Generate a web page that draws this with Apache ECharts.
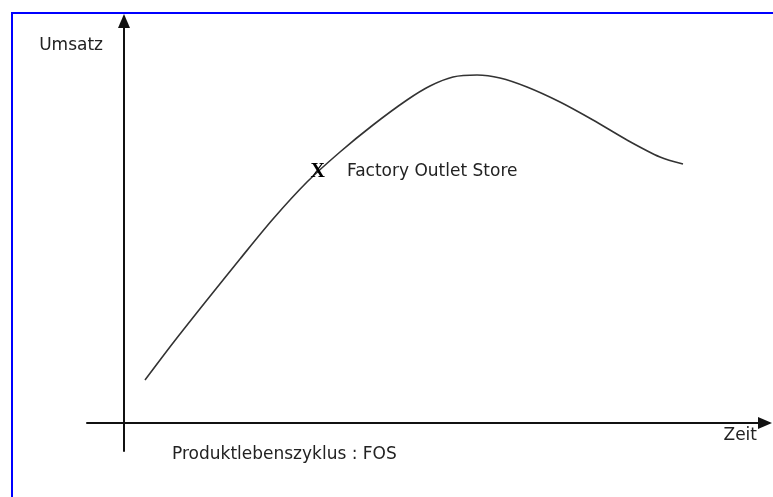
<!DOCTYPE html>
<html>
<head>
<meta charset="utf-8">
<script src="https://cdn.jsdelivr.net/npm/echarts@6/dist/echarts.min.js"></script>
<style>
html,body{margin:0;padding:0;background:#fff;}
#chart{width:773px;height:497px;}
</style>
</head>
<body>
<div id="chart"></div>
<script>
// Zeit (time, arbitrary units) and Umsatz (sales, arbitrary units) along the life cycle curve
const zeit   = [21, 49, 83, 116, 149, 183, 216, 249, 283, 306, 329, 353, 376, 403, 436, 469, 503, 536, 559];
const umsatz = [43, 80, 123, 164, 204, 241, 271, 298, 323, 337, 346, 348, 345, 336, 321, 303, 283, 266, 259];
// Factory Outlet Store position on the curve
const fosPoint = [194, 251];
const fosLabel = 'Factory Outlet Store';
const xAxisName = 'Zeit';
const yAxisName = 'Umsatz';
const caption = 'Produktlebenszyklus : FOS';
const axisRange = { xMin: -37, xMax: 641, yMin: -28, yMax: 402 };

const curve = zeit.map((x, i) => [x, umsatz[i]]);

const chart = echarts.init(document.getElementById('chart'), null, { renderer: 'canvas' });
const textFont = 'DejaVu Sans';
chart.setOption({
  animation: false,
  backgroundColor: '#ffffff',
  title: {
    text: caption,
    left: 172,
    top: 446,
    padding: 0,
    textStyle: { fontFamily: textFont, fontSize: 17, fontWeight: 'normal', color: '#222' }
  },
  graphic: [{
    type: 'rect',
    shape: { x: 12, y: 13, width: 900, height: 700 },
    style: { fill: 'none', stroke: '#0000ff', lineWidth: 2 },
    silent: true
  }],
  grid: { left: 87, right: 8, top: 21, bottom: 46, containLabel: false, outerBoundsMode: 'none' },
  xAxis: {
    type: 'value',
    min: axisRange.xMin,
    max: axisRange.xMax,
    name: xAxisName,
    nameLocation: 'end',
    nameGap: -8,
    nameTextStyle: { fontFamily: textFont, fontSize: 17, color: '#222', align: 'right', verticalAlign: 'top', padding: [4, 0, 0, 0] },
    axisLine: { show: true, onZero: true, symbol: ['none', 'triangle'], symbolSize: [12, 14], lineStyle: { color: '#111', width: 2 } },
    axisTick: { show: false },
    axisLabel: { show: false },
    splitLine: { show: false }
  },
  yAxis: {
    type: 'value',
    min: axisRange.yMin,
    max: axisRange.yMax,
    name: yAxisName,
    nameLocation: 'end',
    nameGap: -25,
    nameTextStyle: { fontFamily: textFont, fontSize: 17, color: '#222', align: 'right', verticalAlign: 'middle', padding: [0, 21, 0, 0] },
    axisLine: { show: true, onZero: true, symbol: ['none', 'triangle'], symbolSize: [12, 14], lineStyle: { color: '#111', width: 2 } },
    axisTick: { show: false },
    axisLabel: { show: false },
    splitLine: { show: false }
  },
  series: [
    {
      type: 'line',
      data: curve,
      smooth: 0.3,
      showSymbol: false,
      lineStyle: { color: '#333', width: 1.6 },
      silent: true
    },
    {
      type: 'scatter',
      data: [fosPoint],
      symbolSize: 1,
      itemStyle: { color: '#000', opacity: 1 },
      silent: true,
      z: 5,
      label: {
        show: true,
        position: 'right',
        distance: -8,
        color: '#222',
        textBorderWidth: 0,
        formatter: '{x|X}{t|' + fosLabel + '}',
        rich: {
          x: { fontFamily: 'Liberation Serif', fontWeight: 'bold', fontSize: 20, color: '#000' },
          t: { fontFamily: textFont, fontSize: 17, color: '#222', padding: [0, 0, 0, 22] }
        }
      }
    }
  ]
});
</script>
</body>
</html>
